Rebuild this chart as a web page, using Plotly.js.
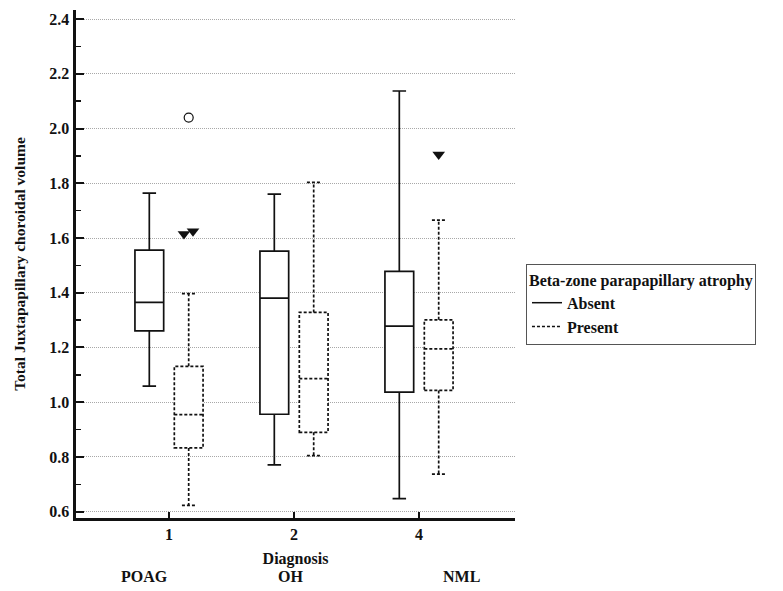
<!DOCTYPE html>
<html>
<head>
<meta charset="utf-8">
<script src="https://cdn.plot.ly/plotly-3.0.1.min.js"></script>
<style>
  html, body { margin: 0; padding: 0; background: #fff; }
  #chart { width: 783px; height: 591px; }
  .boxlayer g.trace.boxes:nth-child(2) path.box { stroke-dasharray: 3px 2px !important; }
</style>
</head>
<body>
<div id="chart"></div>
<script>
// ---- data ----
const diagnosisCodes = ['1', '2', '4'];
const diagnosisNames = ['POAG', 'OH', 'NML'];
const seriesNames = ['Absent', 'Present'];

// Beta-zone PPA absent
const absentLower  = [1.059, 0.771, 0.648];
const absentQ1     = [1.261, 0.956, 1.037];
const absentMedian = [1.365, 1.380, 1.278];
const absentQ3     = [1.556, 1.552, 1.478];
const absentUpper  = [1.764, 1.760, 2.137];

// Beta-zone PPA present
const presentLower  = [0.623, 0.805, 0.737];
const presentQ1     = [0.833, 0.890, 1.043];
const presentMedian = [0.955, 1.086, 1.195];
const presentQ3     = [1.131, 1.328, 1.301];
const presentUpper  = [1.397, 1.803, 1.665];

// outlying values (Present group)
const farOutX = ['1'];
const farOutY = [2.040];
const outLeftX = ['1'];
const outLeftY = [1.615];
const outRightX = ['1'];
const outRightY = [1.625];
const outCenterX = ['4'];
const outCenterY = [1.905];

// ---- styling ----
const FONT = 'Liberation Serif, Times New Roman, serif';
const boldFont = (s) => ({ family: FONT, size: s, color: '#111', weight: 'bold' });

function statBox(name, lower, q1, med, q3, upper) {
  return {
    type: 'box', name: name, orientation: 'v',
    x: diagnosisCodes, q1: q1, median: med, q3: q3,
    lowerfence: lower, upperfence: upper,
    boxpoints: false,
    line: { color: '#111', width: 1.7 },
    fillcolor: '#ffffff',
    whiskerwidth: 0.47,
    alignmentgroup: 'g', offsetgroup: name,
    showlegend: false, hoverinfo: 'skip'
  };
}

function pointBox(group, xs, ys, symbol, size, pos) {
  return {
    type: 'box', orientation: 'v', x: xs, y: ys,
    boxpoints: 'all', jitter: 0, pointpos: pos,
    line: { color: 'rgba(0,0,0,0)', width: 0 },
    fillcolor: 'rgba(0,0,0,0)',
    marker: { symbol: symbol, size: size, color: '#111',
              line: { color: '#111', width: symbol === 'circle-open' ? 1.2 : 0 } },
    alignmentgroup: 'g', offsetgroup: group,
    showlegend: false, hoverinfo: 'y'
  };
}

const traces = [
  statBox(seriesNames[0], absentLower, absentQ1, absentMedian, absentQ3, absentUpper),
  statBox(seriesNames[1], presentLower, presentQ1, presentMedian, presentQ3, presentUpper),
  pointBox(seriesNames[1], farOutX, farOutY, 'circle-open', 9, 0),
  pointBox(seriesNames[1], outLeftX, outLeftY, 'triangle-down', 11, -0.33),
  pointBox(seriesNames[1], outRightX, outRightY, 'triangle-down', 11, 0.3),
  pointBox(seriesNames[1], outCenterX, outCenterY, 'triangle-down', 11, 0),
  { type: 'scatter', mode: 'lines', name: seriesNames[0], x: [null], y: [null],
    line: { color: '#111', width: 1.5 }, hoverinfo: 'skip' },
  { type: 'scatter', mode: 'lines', name: seriesNames[1], x: [null], y: [null],
    line: { color: '#111', width: 1.5, dash: '3px,2px' }, hoverinfo: 'skip' }
];

const annotations = diagnosisNames.map((n, i) => ({
  text: n, xref: 'paper', yref: 'paper',
  x: [0.155, 0.4875, 0.877][i], y: -0.116,
  xanchor: 'center', yanchor: 'middle', showarrow: false,
  font: boldFont(16)
}));

const layout = {
  width: 783, height: 591,
  margin: { l: 76, r: 268, t: 10, b: 73 },
  paper_bgcolor: '#ffffff', plot_bgcolor: '#ffffff',
  boxmode: 'group', boxgap: 0.37, boxgroupgap: 0.27,
  showlegend: true,
  font: boldFont(16),
  xaxis: {
    type: 'category', categoryorder: 'array', categoryarray: diagnosisCodes,
    range: [-0.744, 2.768],
    showline: true, linecolor: '#111', linewidth: 3,
    ticks: 'inside', ticklen: 6, tickwidth: 2, tickcolor: '#111',
    tickfont: boldFont(16),
    showgrid: false, zeroline: false,
    title: { text: 'Diagnosis', font: boldFont(16), standoff: 11 }
  },
  yaxis: {
    range: [0.577, 2.433],
    tick0: 0.6, dtick: 0.2, tickformat: '.1f',
    showline: true, linecolor: '#111', linewidth: 3.5,
    ticks: 'inside', ticklen: 8, tickwidth: 2, tickcolor: '#111',
    minor: { dtick: 0.1, ticks: 'inside', ticklen: 5, tickwidth: 1.5, tickcolor: '#111', showgrid: false },
    tickfont: boldFont(16),
    showgrid: true, gridcolor: '#a8a8a8', gridwidth: 1, griddash: '1px,1px',
    zeroline: false,
    title: { text: 'Total Juxtapapillary choroidal volume', font: boldFont(15.5), standoff: 21 }
  },
  legend: {
    x: 1.025, y: 0.5, xanchor: 'left', yanchor: 'top',
    bgcolor: '#ffffff', bordercolor: '#555', borderwidth: 1,
    font: boldFont(16),
    title: { text: 'Beta-zone parapapillary atrophy', font: boldFont(16) },
    tracegroupgap: 0
  },
  annotations: annotations
};

Plotly.newPlot('chart', traces, layout, { displayModeBar: false, staticPlot: true });
</script>
</body>
</html>
